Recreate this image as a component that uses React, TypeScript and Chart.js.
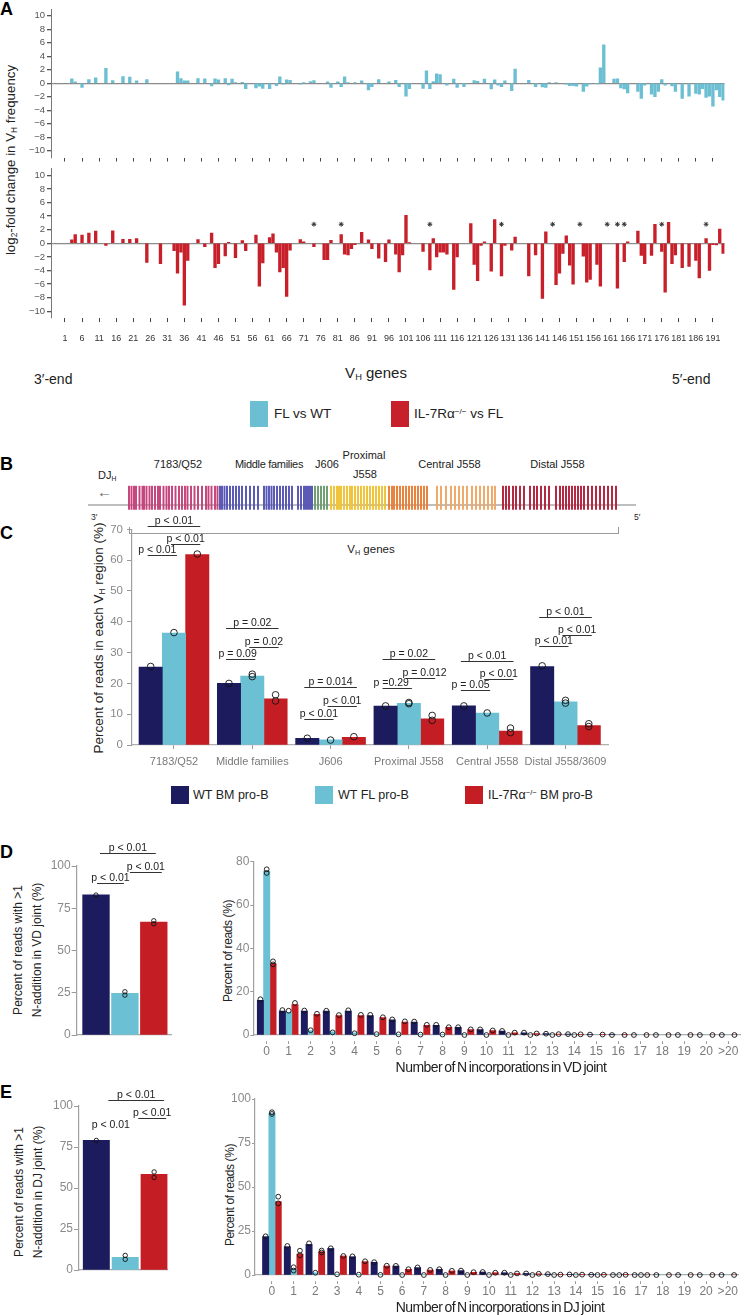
import React, { useEffect, useRef } from 'react';
import { Chart, registerables } from 'chart.js';

Chart.register(...registerables);

const FONT = '"Liberation Sans", Arial, Helvetica, sans-serif';
Chart.defaults.font.family = FONT;

// ================= DATA =================
// Panel A : log2 fold change of VH gene usage
const geneTicks = [1, 6, 11, 16, 21, 26, 31, 36, 41, 46, 51, 56, 61, 66, 71, 76, 81, 86, 91, 96, 101, 106, 111, 116, 121, 126, 131, 136, 141, 146, 151, 156, 161, 166, 171, 176, 181, 186, 191];
const foldTicks = [-10, -8, -6, -4, -2, 0, 2, 4, 6, 8, 10];

const flGenes = [3, 4, 6, 8, 10, 13, 15, 18, 20, 22, 25, 34, 35, 36, 37, 40, 42, 44, 45, 46, 48, 49, 50, 51, 53, 54, 57, 58, 59, 61, 63, 64, 65, 66, 67, 70, 71, 73, 74, 78, 79, 81, 82, 83, 84, 86, 88, 90, 91, 93, 96, 98, 99, 101, 102, 106, 107, 108, 109, 110, 111, 113, 115, 116, 118, 121, 122, 124, 126, 127, 128, 129, 130, 132, 133, 137, 139, 141, 142, 143, 145, 148, 149, 150, 151, 153, 154, 155, 157, 158, 159, 162, 163, 164, 165, 166, 169, 170, 171, 173, 174, 175, 176, 177, 179, 180, 182, 184, 186, 187, 188, 189, 190, 191, 192, 193, 194];
const flValues = [0.65, 0.2, -0.6, 0.55, 0.8, 2.2, 0.4, 1.0, 0.9, 0.35, 0.55, 1.7, 0.7, 0.35, 0.35, 0.7, 0.65, -0.4, 0.65, 0.5, 0.7, -0.25, 0.6, 0.1, 0.15, -0.8, -0.7, -0.45, -0.75, -0.8, -0.35, 0.95, -0.15, 0.5, 0.45, -0.15, 0.05, 0.25, 0.4, 0.2, -0.6, 0.2, -0.5, 0.95, 0.1, 0.1, 0.35, -1.0, -0.5, 0.55, 0.2, 0.45, -0.5, -1.9, -0.8, -0.75, 1.85, -0.8, 0.25, 1.4, 1.3, -0.3, 0.6, -0.6, -0.5, 0.4, 0.3, 0.6, -0.85, 0.5, -0.3, -0.5, 0.35, -1.1, 2.1, 0.45, -0.5, -0.55, -0.6, 0.1, 0.1, -0.15, -0.35, -0.35, -0.45, -1.2, -0.45, -0.1, -0.05, 2.3, 5.7, 0.6, 0.65, -0.7, -0.85, -1.45, -1.2, -2.25, -0.3, -1.6, -2.0, -1.2, 0.55, -0.3, -0.4, -1.2, -2.25, -1.9, -1.5, -1.6, -0.8, -2.1, -1.9, -3.4, -1.0, -2.0, -2.5];

const il7Genes = [3, 4, 6, 8, 10, 13, 15, 18, 20, 22, 25, 29, 33, 34, 35, 36, 37, 40, 42, 44, 45, 46, 48, 49, 51, 53, 54, 57, 58, 59, 61, 62, 63, 64, 65, 66, 67, 70, 71, 74, 77, 78, 79, 82, 83, 84, 85, 86, 88, 90, 91, 93, 95, 96, 98, 99, 100, 101, 102, 106, 108, 109, 110, 111, 112, 113, 115, 116, 120, 121, 122, 123, 124, 126, 127, 129, 130, 132, 133, 137, 139, 141, 142, 145, 146, 147, 148, 149, 150, 153, 154, 155, 157, 158, 163, 165, 166, 169, 170, 171, 173, 174, 176, 177, 178, 179, 180, 182, 184, 186, 187, 189, 190, 191, 192, 193, 194];
const il7Values = [0.5, 1.3, 1.2, 1.5, 1.8, -0.3, 1.85, 0.6, 0.6, 0.7, -2.8, -3.0, -1.1, -4.4, -1.3, -9.1, -2.5, 0.55, -0.5, 1.5, -3.6, -3.0, -1.85, 0.15, -2.1, 0.4, -1.1, 1.2, -6.3, -2.9, 0.85, 1.4, -1.3, -4.2, -3.6, -7.8, -1.0, 0.55, 0.2, -0.5, -2.4, -2.4, 0.45, 1.3, -1.6, -1.7, -0.8, -0.2, 1.6, 0.5, -0.8, -2.2, -2.7, 0.5, -1.6, -4.2, -1.7, 4.1, 0.05, -1.2, -3.9, 0.7, -2.0, -1.3, -1.3, -1.6, -6.8, -2.0, 2.9, -3.1, -5.5, -0.3, 0.2, -4.1, 3.5, -4.8, -0.3, -1.0, 0.9, -4.8, -1.7, -8.1, 1.7, -6.1, -4.4, -1.5, 1.1, -3.2, -6.0, -1.9, -5.7, -5.3, -3.1, -6.3, -6.6, -2.7, 0.2, 1.8, -1.8, -3.0, -1.8, 2.8, -1.2, -7.2, 3.1, -3.0, -1.7, -3.6, -3.4, -2.5, -5.1, 0.7, -4.0, -0.2, -0.25, 2.1, -1.5];

const starGenes = [74, 82, 108, 129, 144, 152, 160, 163, 165, 176, 189];
const starLevel = 2.8;

// Panel B : VH locus map (gene positions along the locus, arbitrary units)
const locus7183 = [2, 4.5, 7, 9, 12.5, 15.5, 17, 19.5, 22.5, 25, 28, 31, 33, 36.5, 39.5, 42, 45, 48.5, 52, 55, 58, 60.5, 64, 67.5, 71, 75, 79, 81.5, 84.5, 88, 90.5];
const locusMiddle = [93, 95, 97.5, 100, 103, 106, 109, 112, 115, 119, 123, 127, 131, 137, 139.5, 142, 144.5, 147, 150, 153, 156, 159, 162, 165, 171, 174, 177, 179, 181, 183, 185];
const locusJ606 = [188, 191, 194, 197, 200];
const locusProximal = [204, 207, 210, 212, 214, 217, 220, 223, 225, 228, 231, 234, 237, 240, 243, 246, 249, 252, 255, 258];
const locusCentralA = [262, 265, 267, 270, 273, 276, 279, 282, 285, 288, 291, 294, 297, 300];
const locusCentralB = [310, 314, 319, 324, 328, 332, 336, 340, 345, 349, 353, 357, 361, 365, 368];
const locusDistal = [376, 379, 382, 386, 389, 393, 397, 403, 407, 410, 414, 418, 422, 429, 433, 436, 439, 442, 445, 448, 451, 454, 457, 461, 465, 469, 473, 477, 481, 485, 489];
const locusStart = -39;
const locusEnd = 509;

// Panel C : percent of reads per VH region
const cGroups = ['7183/Q52', 'Middle families', 'J606', 'Proximal J558', 'Central J558', 'Distal J558/3609'];
const cWtBM = [25.3, 20.0, 2.2, 12.6, 12.7, 25.5];
const cWtFL = [36.3, 22.4, 1.7, 13.5, 10.4, 14.0];
const cIl7 = [61.8, 15.0, 2.5, 8.5, 4.5, 6.3];
const cWtBMReps = [[25.5], [20.0], [2.2], [12.7], [12.7], [25.7]];
const cWtFLReps = [[36.5], [22.2, 23.0], [1.6], [13.8, 13.4], [10.4], [14.5, 13.6]];
const cIl7Reps = [[62.0], [16.3, 14.3], [2.7], [9.6, 8.0], [5.5, 4.0], [6.9, 6.0]];
const cPvals = [
  { a: [0, 0], b: [2, 0], y: 71.2, t: 'p < 0.01' },
  { a: [1, 0], b: [2, 0], y: 65.1, t: 'p < 0.01' },
  { a: [0, 0], b: [1, 0], y: 61.8, t: 'p < 0.01', dx: -5 },
  { a: [0, 1], b: [2, 1], y: 38.0, t: 'p = 0.02' },
  { a: [1, 1], b: [2, 1], y: 31.9, t: 'p = 0.02' },
  { a: [0, 1], b: [1, 1], y: 27.8, t: 'p = 0.09', dx: -3 },
  { a: [0, 2], b: [2, 2], y: 18.9, t: 'p = 0.014' },
  { a: [1, 2], b: [2, 2], y: 12.6, t: 'p < 0.01' },
  { a: [0, 2], b: [1, 2], y: 8.4, t: 'p < 0.01' },
  { a: [0, 3], b: [2, 3], y: 28.0, t: 'p = 0.02' },
  { a: [1, 3], b: [2, 3], y: 21.8, t: 'p = 0.012', dx: 4 },
  { a: [0, 3], b: [1, 3], y: 18.5, t: 'p =0.29', dx: -6 },
  { a: [0, 4], b: [2, 4], y: 27.3, t: 'p < 0.01' },
  { a: [1, 4], b: [2, 4], y: 21.3, t: 'p < 0.01' },
  { a: [0, 4], b: [1, 4], y: 17.8, t: 'p = 0.05', dx: -5 },
  { a: [0, 5], b: [2, 5], y: 41.7, t: 'p < 0.01' },
  { a: [1, 5], b: [2, 5], y: 35.7, t: 'p < 0.01' },
  { a: [0, 5], b: [1, 5], y: 32.1, t: 'p < 0.01' },
];

// Panel D : VD joint N additions
const dLeftValues = [83.0, 24.7, 66.8];
const dLeftReps = [[82.8], [25.6, 23.6], [67.6, 65.8]];
const dLeftPvals = [
  { a: [0, 0], b: [0, 2], y: 107.9, t: 'p < 0.01', l: 4, r: 2 },
  { a: [0, 1], b: [0, 2], y: 96.6, t: 'p < 0.01', l: 5, r: 8 },
  { a: [0, 0], b: [0, 1], y: 90.1, t: 'p < 0.01', l: 1, r: -1 },
];
const nLabels = ['0', '1', '2', '3', '4', '5', '6', '7', '8', '9', '10', '11', '12', '13', '14', '15', '16', '17', '18', '19', '20', '>20'];
const dNavy = [16, 11, 11, 11, 11, 9, 7, 6, 4.5, 3.5, 2.5, 1.8, 1, 0.6, 0.4, 0.2, 0.1, 0, 0, 0, 0, 0];
const dCyan = [75.5, 10.5, 2, 1.5, 1, 0.5, 0.3, 0.3, 0.2, 0.1, 0, 0, 0, 0, 0, 0, 0, 0, 0, 0, 0, 0];
const dRed = [33, 14, 9.5, 9, 9, 8, 6, 4.5, 3.5, 2.5, 2, 1, 0.7, 0.4, 0.3, 0.2, 0.1, 0, 0, 0, 0, 0];
const dNavyReps = [[16.5], [11.5], [11.3], [11.2], [11.4], [9.3], [7.2], [6.2], [4.7], [3.6], [2.6], [1.9], [1.1], [0.6], [0.4], [0.2], [0], [0], [0], [0], [0], [0]];
const dCyanReps = [[76.5, 74.8], [11.2], [2.2], [1.2], [0.8], [0.4], [0.3], [0.2], [0.2], [0], [0], [0], [0], [0], [0], [], [], [], [], [], [], []];
const dRedReps = [[34.0, 32.6], [14.8], [9.8], [9.2], [9.3], [8.2], [6.3], [4.7], [3.6], [2.6], [2.1], [1.1], [0.7], [0.4], [0.3], [0.2], [0], [0], [0], [0], [0], [0]];

// Panel E : DJ joint N additions
const eLeftValues = [79.0, 7.8, 58.3];
const eLeftReps = [[79.0], [8.9, 6.5], [59.8, 56.4]];
const eLeftPvals = [
  { a: [0, 0], b: [0, 2], y: 103.7, t: 'p < 0.01', l: 12, r: 10 },
  { a: [0, 1], b: [0, 2], y: 92.5, t: 'p < 0.01', l: 13, r: 12 },
  { a: [0, 0], b: [0, 1], y: 85.4, t: 'p < 0.01', l: 0, r: 0, noLine: true },
];
const eNavy = [21.8, 16.1, 17.4, 15.1, 10.4, 7.2, 5.1, 4.2, 3.2, 2.5, 1.7, 1.3, 0.9, 0.5, 0.3, 0.1, 0, 0, 0, 0, 0, 0];
const eCyan = [91.9, 3.2, 1.3, 0.4, 0.2, 0.1, 0, 0, 0, 0, 0, 0, 0, 0, 0, 0, 0, 0, 0, 0, 0, 0];
const eRed = [41.7, 11.9, 13.3, 10.8, 7.6, 5.1, 3.2, 2.8, 2.3, 1.5, 1.3, 0.9, 0.7, 0.2, 0.2, 0.1, 0.1, 0, 0, 0, 0, 0];
const eNavyReps = [[22], [16.5], [18], [15.2], [10.6], [7.3], [5.2], [4.3], [3.3], [2.5], [1.7], [1.3], [0.9], [0.5], [0.3], [0.1], [0], [0], [0], [0], [0], [0]];
const eCyanReps = [[92.5, 91.5], [4.4, 2.5], [1.3], [0.4], [0.2], [0.1], [0], [0], [0], [0], [0], [0], [0], [0], [0], [0], [0], [0], [], [], [], []];
const eRedReps = [[44.5, 40.7], [13.8, 11.2], [13.9, 12.8], [10.8], [7.8], [5.3], [3.3], [2.9], [2.4], [1.6], [1.3], [0.9], [0.7], [0.2], [0.2], [0.1], [0.1], [0], [0], [0], [0], [0]];

// ================= STYLE =================
const NAVY = '#1c1b5e';
const CYAN = '#6cc0d3';
const RED = '#c41e24';
const A_BLUE = '#6cbfd2';
const A_RED = '#c8202a';
const LOCUS_COLORS = ['#c4457c', '#5858b4', '#6f9e72', '#f0c43a', '#e8823c', '#f0a866', '#b4243e'];

type Box = { left: number; top: number; width: number; height: number };
type Area = { left: number; top: number; right: number; bottom: number };

function frame(box: Box, area: Area) {
  return {
    padding: { left: 0, top: area.top - box.top, right: box.left + box.width - area.right, bottom: 0 },
    yW: area.left - box.left,
    xH: box.top + box.height - area.bottom,
  };
}

const basePlugins = { legend: { display: false }, tooltip: { enabled: false }, title: { display: false } };

function makeReps(r: number) {
  return {
    id: 'reps',
    afterDatasetsDraw(chart: any) {
      const ctx = chart.ctx;
      const ys = chart.scales.y;
      ctx.save();
      ctx.strokeStyle = '#111';
      ctx.lineWidth = 0.9;
      chart.data.datasets.forEach((ds: any, di: number) => {
        if (!ds.reps) return;
        const meta = chart.getDatasetMeta(di);
        ds.reps.forEach((arr: number[], i: number) => {
          const el = meta.data[i];
          if (!el) return;
          arr.forEach((v) => {
            ctx.beginPath();
            ctx.arc(el.x, ys.getPixelForValue(v), r, 0, Math.PI * 2);
            ctx.stroke();
          });
        });
      });
      ctx.restore();
    },
  };
}

function makeBrackets(items: any[], size: number) {
  return {
    id: 'brackets',
    afterDatasetsDraw(chart: any) {
      const ctx = chart.ctx;
      const ys = chart.scales.y;
      ctx.save();
      ctx.strokeStyle = '#333';
      ctx.lineWidth = 1;
      ctx.fillStyle = '#222';
      ctx.font = `${size}px ${FONT}`;
      ctx.textAlign = 'center';
      ctx.textBaseline = 'alphabetic';
      items.forEach((it) => {
        const ea = chart.getDatasetMeta(it.a[0]).data[it.a[1]];
        const eb = chart.getDatasetMeta(it.b[0]).data[it.b[1]];
        const x1 = ea.x + (it.l ?? -3);
        const x2 = eb.x + (it.r ?? 3);
        const py = Math.round(ys.getPixelForValue(it.y)) + 0.5;
        if (!it.noLine) {
          ctx.beginPath();
          ctx.moveTo(x1, py);
          ctx.lineTo(x2, py);
          ctx.stroke();
        }
        ctx.fillText(it.t, (x1 + x2) / 2 + (it.dx || 0), py - 3);
      });
      ctx.restore();
    },
  };
}

// ---------- Panel A charts ----------
function aConfig(box: Box, area: Area, genes: number[], values: number[], color: string, labels: boolean, stars: boolean) {
  const F = frame(box, area);
  const datasets: any[] = [
    { type: 'bar', data: genes.map((g, i) => ({ x: g, y: values[i] })), backgroundColor: color, barThickness: 2.7, borderWidth: 0 },
  ];
  if (stars) {
    datasets.push({
      type: 'scatter', data: starGenes.map((g) => ({ x: g, y: starLevel })), pointStyle: 'star', radius: 2.4,
      borderColor: '#333', backgroundColor: '#333', borderWidth: 1,
    });
  }
  return {
    type: 'bar',
    data: { datasets },
    options: {
      responsive: false, animation: false, events: [],
      layout: { padding: F.padding },
      plugins: basePlugins,
      scales: {
        x: {
          type: 'linear', min: -3.1, max: 194.4, offset: false,
          afterBuildTicks: (ax: any) => { ax.ticks = geneTicks.map((v) => ({ value: v })); },
          afterFit: (ax: any) => { ax.height = F.xH; },
          grid: { display: true, drawOnChartArea: false, drawTicks: true, tickLength: 4, tickColor: '#444', tickWidth: 1, offset: false },
          border: { display: false },
          ticks: { display: labels, autoSkip: false, maxRotation: 0, minRotation: 0, padding: 11.5, color: '#333', font: { size: 9 } },
        },
        y: {
          min: -11, max: 11,
          afterBuildTicks: (ax: any) => { ax.ticks = foldTicks.map((v) => ({ value: v })); },
          afterFit: (ax: any) => { ax.width = F.yW; },
          grid: {
            drawOnChartArea: true,
            color: (c: any) => (c.tick && c.tick.value === 0 ? '#8c8c8c' : 'rgba(0,0,0,0)'),
            lineWidth: 1.3, tickColor: '#555', tickLength: 4,
          },
          border: { display: true, color: '#777', width: 1 },
          ticks: { padding: 2, color: '#555', font: { size: 9.5 }, callback: (v: number) => (v < 0 ? '\u2212' + Math.abs(v) : String(v)) },
        },
      },
    },
  };
}

// ---------- Panel B chart ----------
function bConfig() {
  const tracks = [locus7183, locusMiddle, locusJ606, locusProximal, locusCentralA, locusCentralB, locusDistal];
  const datasets: any[] = tracks.map((pos, k) => ({
    type: 'bar', data: pos.map((p) => ({ x: p, y: [-1, 1] })), backgroundColor: LOCUS_COLORS[k],
    barThickness: 1.3, grouped: false, borderWidth: 0,
  }));
  datasets.push({
    type: 'line', data: [{ x: locusStart, y: -0.6 }, { x: locusEnd, y: -0.6 }], borderColor: '#a8a8a8',
    borderWidth: 1.5, pointRadius: 0, order: 10,
  });
  return {
    type: 'bar',
    data: { datasets },
    options: {
      responsive: false, animation: false, events: [],
      layout: { padding: { left: 8, top: 7.7, right: 14, bottom: 8.3 } },
      plugins: basePlugins,
      scales: {
        x: { type: 'linear', display: false, min: locusStart, max: locusEnd, offset: false },
        y: { display: false, min: -1, max: 1 },
      },
    },
  };
}

// ---------- grouped bar chart (C, D right, E right) ----------
function groupedConfig(opts: any) {
  const F = frame(opts.box, opts.area);
  const series = [
    { data: opts.navy, reps: opts.navyReps, color: NAVY },
    { data: opts.cyan, reps: opts.cyanReps, color: CYAN },
    { data: opts.red, reps: opts.redReps, color: RED },
  ];
  return {
    type: 'bar',
    data: {
      datasets: series.map((s) => ({
        data: s.data.map((v: number, i: number) => ({ x: i, y: v })), backgroundColor: s.color,
        barThickness: opts.thickness, borderWidth: 0, reps: s.reps,
      })),
    },
    options: {
      responsive: false, animation: false, events: [],
      layout: { padding: F.padding },
      plugins: basePlugins,
      scales: {
        x: {
          type: 'linear', min: opts.xmin, max: opts.xmax, offset: false,
          afterBuildTicks: (ax: any) => { ax.ticks = opts.labels.map((_: string, i: number) => ({ value: i })); },
          afterFit: (ax: any) => { ax.height = F.xH; },
          grid: {
            display: true, drawOnChartArea: false, drawTicks: true, tickLength: opts.tickLen, tickColor: '#999', offset: false,
            tickBorderDash: opts.tickDash || [],
          },
          border: { display: true, color: '#b0b0b0', width: 1.2 },
          ticks: {
            autoSkip: false, maxRotation: 0, minRotation: 0, padding: opts.labelPad, color: '#7a7a7a',
            font: { size: opts.labelSize }, callback: (v: number) => opts.labels[v] ?? '',
          },
        },
        y: {
          min: 0, max: opts.ymax,
          afterBuildTicks: (ax: any) => { ax.ticks = opts.yTicks.map((v: number) => ({ value: v })); },
          afterFit: (ax: any) => { ax.width = F.yW; },
          grid: { drawOnChartArea: false, tickColor: '#999', tickLength: opts.yTickLen },
          border: { display: true, color: '#a0a0a0', width: 1.2 },
          ticks: { padding: opts.yPad, color: '#8a8a8a', font: { size: opts.ySize } },
        },
      },
    },
    plugins: [makeReps(opts.r), makeBrackets(opts.pvals || [], 10.5)],
  };
}

// ---------- three-bar summary chart (D left, E left) ----------
function summaryConfig(box: Box, area: Area, values: number[], reps: number[][], pvals: any[], xmin: number, xmax: number, thick: number) {
  const F = frame(box, area);
  return {
    type: 'bar',
    data: {
      datasets: [{
        data: values.map((v, i) => ({ x: i, y: v })), backgroundColor: [NAVY, CYAN, RED],
        barThickness: thick, borderWidth: 0, reps,
      }],
    },
    options: {
      responsive: false, animation: false, events: [],
      layout: { padding: F.padding },
      plugins: basePlugins,
      scales: {
        x: {
          type: 'linear', min: xmin, max: xmax, offset: false,
          afterFit: (ax: any) => { ax.height = F.xH; },
          grid: { display: false, drawTicks: false, offset: false },
          border: { display: true, color: '#a8a8a8', width: 1.2 },
          ticks: { display: false },
        },
        y: {
          min: 0, max: 100,
          afterBuildTicks: (ax: any) => { ax.ticks = [0, 25, 50, 75, 100].map((v) => ({ value: v })); },
          afterFit: (ax: any) => { ax.width = F.yW; },
          grid: { drawOnChartArea: false, tickColor: '#999', tickLength: 5 },
          border: { display: true, color: '#a0a0a0', width: 1.2 },
          ticks: { padding: 1, color: '#8a8a8a', font: { size: 12 } },
        },
      },
    },
    plugins: [makeReps(2.2), makeBrackets(pvals, 10.5)],
  };
}

// ================= LAYOUT BOXES =================
const A_TOP_BOX = { left: 0, top: 0, width: 746, height: 168 };
const A_TOP_AREA = { left: 51, top: 9, right: 724.5, bottom: 157.5 };
const A_BOT_BOX = { left: 0, top: 160, width: 746, height: 195 };
const A_BOT_AREA = { left: 51, top: 168.5, right: 724.5, bottom: 318.1 };
const B_BOX = { left: 80, top: 478, width: 570, height: 40 };
const C_BOX = { left: 60, top: 505, width: 560, height: 272 };
const C_AREA = { left: 132, top: 529.4, right: 608, bottom: 745 };
const DL_BOX = { left: 30, top: 828, width: 160, height: 222 };
const DL_AREA = { left: 76.7, top: 866, right: 171.7, bottom: 1035 };
const EL_BOX = { left: 30, top: 1072, width: 160, height: 213 };
const EL_AREA = { left: 79, top: 1106, right: 167.7, bottom: 1270 };
const DR_BOX = { left: 200, top: 848, width: 546, height: 232 };
const DR_AREA = { left: 253.3, top: 861.7, right: 740, bottom: 1035 };
const ER_BOX = { left: 200, top: 1088, width: 546, height: 222 };
const ER_AREA = { left: 255, top: 1099, right: 738, bottom: 1275 };

// ================= HTML helpers =================
const Txt = ({ x, y, children, size = 12, anchor = 'start', color = '#222', weight = 'normal', style = {} }: any) => (
  <div
    style={{
      position: 'absolute', left: x, top: y, fontSize: size, color, fontWeight: weight, whiteSpace: 'nowrap', lineHeight: 1,
      transform: `translate(${anchor === 'middle' ? '-50%' : anchor === 'end' ? '-100%' : '0'}, -50%)`, ...style,
    }}
  >
    {children}
  </div>
);

const Rot = ({ x, y, children, size = 12, lh = 1.2, style = {} }: any) => (
  <div
    style={{
      position: 'absolute', left: x, top: y, fontSize: size, color: '#222', whiteSpace: 'nowrap', lineHeight: lh,
      textAlign: 'center', transform: 'translate(-50%, -50%) rotate(-90deg)', ...style,
    }}
  >
    {children}
  </div>
);

const Sub = ({ children }: any) => (
  <sub style={{ fontSize: '0.62em', verticalAlign: '-0.3em', lineHeight: 0 }}>{children}</sub>
);
const Sup = ({ children }: any) => (
  <sup style={{ fontSize: '0.6em', verticalAlign: '0.55em', lineHeight: 0 }}>{children}</sup>
);

const Rect = ({ x, y, w, h, color }: any) => (
  <div style={{ position: 'absolute', left: x, top: y, width: w, height: h, background: color }} />
);

const Cv = ({ r, box }: any) => (
  <canvas
    ref={r}
    width={box.width}
    height={box.height}
    style={{ position: 'absolute', left: box.left, top: box.top, width: box.width, height: box.height }}
  />
);

export default function App() {
  const aTop = useRef<HTMLCanvasElement>(null);
  const aBot = useRef<HTMLCanvasElement>(null);
  const bRef = useRef<HTMLCanvasElement>(null);
  const cRef = useRef<HTMLCanvasElement>(null);
  const dl = useRef<HTMLCanvasElement>(null);
  const dr = useRef<HTMLCanvasElement>(null);
  const el = useRef<HTMLCanvasElement>(null);
  const er = useRef<HTMLCanvasElement>(null);

  useEffect(() => {
    const charts: Chart[] = [];
    const add = (ref: any, cfg: any) => { if (ref.current) charts.push(new Chart(ref.current, cfg)); };
    add(aTop, aConfig(A_TOP_BOX, A_TOP_AREA, flGenes, flValues, A_BLUE, false, false));
    add(aBot, aConfig(A_BOT_BOX, A_BOT_AREA, il7Genes, il7Values, A_RED, true, true));
    add(bRef, bConfig());
    add(cRef, groupedConfig({
      box: C_BOX, area: C_AREA, navy: cWtBM, cyan: cWtFL, red: cIl7, navyReps: cWtBMReps, cyanReps: cWtFLReps, redReps: cIl7Reps,
      labels: cGroups, xmin: -0.536, xmax: 5.543, thickness: 23.3, tickLen: 4, labelPad: 6.1, labelSize: 11,
      ymax: 70, yTicks: [0, 10, 20, 30, 40, 50, 60, 70], yTickLen: 5, yPad: 4, ySize: 11.5, r: 3.3, pvals: cPvals,
    }));
    add(dl, summaryConfig(DL_BOX, DL_AREA, dLeftValues, dLeftReps, dLeftPvals, -0.668, 2.62, 26.7));
    add(el, summaryConfig(EL_BOX, EL_AREA, eLeftValues, eLeftReps, eLeftPvals, -0.6, 2.47, 26.3));
    add(dr, groupedConfig({
      box: DR_BOX, area: DR_AREA, navy: dNavy, cyan: dCyan, red: dRed, navyReps: dNavyReps, cyanReps: dCyanReps, redReps: dRedReps,
      labels: nLabels, xmin: -0.61, xmax: 21.54, thickness: 6.3, tickLen: 9, tickDash: [0, 6, 3, 20], labelPad: 0, labelSize: 12,
      ymax: 80, yTicks: [0, 20, 40, 60, 80], yTickLen: 3, yPad: 1, ySize: 12, r: 2.4,
    }));
    add(er, groupedConfig({
      box: ER_BOX, area: ER_AREA, navy: eNavy, cyan: eCyan, red: eRed, navyReps: eNavyReps, cyanReps: eCyanReps, redReps: eRedReps,
      labels: nLabels, xmin: -0.78, xmax: 21.47, thickness: 6.3, tickLen: 9, tickDash: [0, 6, 3, 20], labelPad: 0, labelSize: 12,
      ymax: 100, yTicks: [0, 25, 50, 75, 100], yTickLen: 3, yPad: 1, ySize: 12, r: 2.4,
    }));
    return () => charts.forEach((c) => c.destroy());
  }, []);

  return (
    <div style={{ position: 'absolute', left: 0, top: 0, width: 746, height: 1315, background: '#fff', fontFamily: FONT, overflow: 'hidden' }}>
      {/* Panel A */}
      <Txt x={0} y={8.5} size={18} weight="bold" color="#000">A</Txt>
      <Rot x={11} y={160} size={13.3}>log<Sub>2</Sub>-fold change in V<Sub>H</Sub> frequency</Rot>
      <Cv r={aTop} box={A_TOP_BOX} />
      <Cv r={aBot} box={A_BOT_BOX} />
      <Txt x={34} y={379} size={14}>3′-end</Txt>
      <Txt x={376} y={372} size={15} anchor="middle">V<Sub>H</Sub> genes</Txt>
      <Txt x={672} y={379} size={14}>5′-end</Txt>
      <Rect x={250} y={401} w={18} h={26} color={A_BLUE} />
      <Txt x={274} y={414} size={13.5}>FL vs WT</Txt>
      <Rect x={391} y={401} w={18} h={26} color={A_RED} />
      <Txt x={414} y={414} size={13.5}>IL-7Rα<Sup>−/−</Sup> vs FL</Txt>

      {/* Panel B */}
      <Txt x={0} y={464} size={18} weight="bold" color="#000">B</Txt>
      <Txt x={98} y={475} size={11}>DJ<Sub>H</Sub></Txt>
      <Txt x={97} y={491} size={15} color="#666">←</Txt>
      <Txt x={91} y={517} size={8.5}>3′</Txt>
      <Txt x={634} y={517} size={8.5}>5′</Txt>
      <Txt x={178} y={464} size={11} anchor="middle">7183/Q52</Txt>
      <Txt x={269} y={464} size={11} anchor="middle" style={{ letterSpacing: -0.3 }}>Middle families</Txt>
      <Txt x={327} y={464} size={11} anchor="middle">J606</Txt>
      <Txt x={364} y={454.5} size={11} anchor="middle">Proximal</Txt>
      <Txt x={365} y={473.5} size={11} anchor="middle">J558</Txt>
      <Txt x={449.5} y={464} size={11} anchor="middle">Central J558</Txt>
      <Txt x={557.5} y={464} size={11} anchor="middle">Distal J558</Txt>
      <Cv r={bRef} box={B_BOX} />
      <div style={{ position: 'absolute', left: 129, top: 526.5, width: 488, height: 6.5, border: '1px solid #9a9a9a', borderTop: 'none' }} />
      <Txt x={371} y={550} size={11.5} anchor="middle">V<Sub>H</Sub> genes</Txt>

      {/* Panel C */}
      <Txt x={0} y={532.5} size={18} weight="bold" color="#000">C</Txt>
      <Rot x={99} y={638} size={13.5}>Percent of reads in each V<Sub>H</Sub> region (%)</Rot>
      <Cv r={cRef} box={C_BOX} />
      <Rect x={171} y={786} w={18} h={17.5} color={NAVY} />
      <Txt x={193} y={794.5} size={12.5}>WT BM pro-B</Txt>
      <Rect x={315} y={786} w={18} h={17.5} color={CYAN} />
      <Txt x={338} y={794.5} size={12.5}>WT FL pro-B</Txt>
      <Rect x={465} y={786} w={18} h={17.5} color={RED} />
      <Txt x={488} y={794.5} size={12.5}>IL-7Rα<Sup>−/−</Sup> BM pro-B</Txt>

      {/* Panel D */}
      <Txt x={0} y={852} size={18} weight="bold" color="#000">D</Txt>
      <Rot x={28} y={950} size={12} lh="19px">Percent of reads with &gt;1<br />N-addition in VD joint (%)</Rot>
      <Cv r={dl} box={DL_BOX} />
      <Rot x={228} y={951} size={12} style={{ letterSpacing: -0.4 }}>Percent of reads (%)</Rot>
      <Cv r={dr} box={DR_BOX} />
      <Txt x={501} y={1067} size={14} anchor="middle" style={{ letterSpacing: -0.55, wordSpacing: -1.2 }}>Number of N incorporations in VD joint</Txt>

      {/* Panel E */}
      <Txt x={0} y={1091.5} size={18} weight="bold" color="#000">E</Txt>
      <Rot x={29} y={1192} size={12} lh="19px">Percent of reads with &gt;1<br />N-addition in DJ joint (%)</Rot>
      <Cv r={el} box={EL_BOX} />
      <Rot x={230} y={1195} size={12} style={{ letterSpacing: -0.4 }}>Percent of reads (%)</Rot>
      <Cv r={er} box={ER_BOX} />
      <Txt x={500} y={1307} size={14} anchor="middle" style={{ letterSpacing: -0.55, wordSpacing: -1.2 }}>Number of N incorporations in DJ joint</Txt>
    </div>
  );
}
